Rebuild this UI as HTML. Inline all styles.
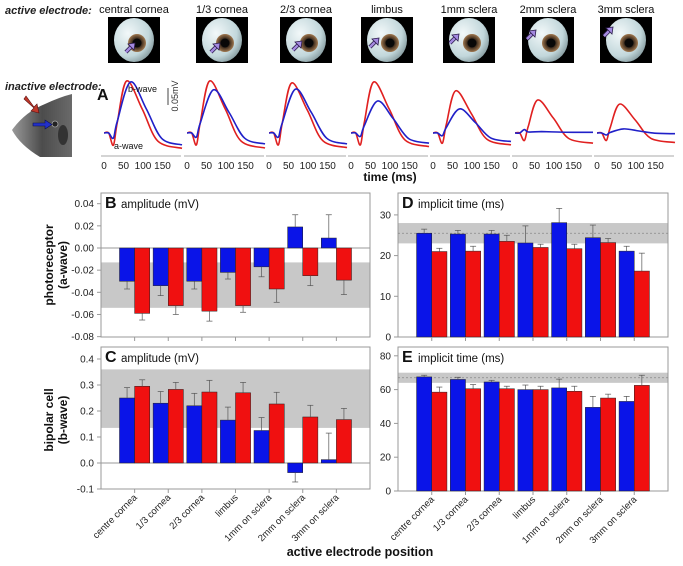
<!DOCTYPE html>
<html><head><meta charset="utf-8"><style>
html,body{margin:0;padding:0;background:#fff;}
svg{display:block;font-family:"Liberation Sans",Arial,sans-serif;}
</style></head><body>
<svg id="fig" width="683" height="566" viewBox="0 0 683 566" xmlns="http://www.w3.org/2000/svg">
<defs>
<radialGradient id="eyeG" cx="0.35" cy="0.35" r="0.8">
<stop offset="0" stop-color="#f2f8f9"/><stop offset="0.65" stop-color="#c2d7db"/><stop offset="1" stop-color="#6f8488"/></radialGradient>
<radialGradient id="irisG" cx="0.5" cy="0.5" r="0.5">
<stop offset="0.5" stop-color="#3a2a1c"/><stop offset="1" stop-color="#a07850"/></radialGradient>
<linearGradient id="mouseG" x1="0" y1="0" x2="1" y2="0">
<stop offset="0" stop-color="#9a9a9a"/><stop offset="0.5" stop-color="#4c4c4c"/><stop offset="1" stop-color="#6a6a6a"/></linearGradient>
</defs>
<g id="topGroup"></g>
<g id="bars"></g>
</svg>
<script>
// ---------------- data ----------------
const positions = ["central cornea","1/3 cornea","2/3 cornea","limbus","1mm sclera","2mm sclera","3mm sclera"];
const categories = ["centre cornea","1/3 cornea","2/3 cornea","limbus","1mm on sclera","2mm on sclera","3mm on sclera"];
// waveform parameters (mV)
const redB = [0.153,0.153,0.147,0.150,0.124,0.097,0.085];
const blueB = [0.150,0.127,0.129,0.094,0.071,0.004,0.012];
const redA = [-0.036,-0.035,-0.035,-0.035,-0.030,-0.022,-0.022];
const blueA = [-0.015,-0.012,-0.012,-0.010,-0.008,0.010,-0.006];
const redEnd = [-0.045,-0.044,-0.043,-0.040,-0.035,-0.030,-0.028];
const blueEnd = [-0.035,-0.032,-0.032,-0.030,-0.025,0.002,-0.002];
// B: a-wave amplitude
const bBlue = [-0.030,-0.034,-0.030,-0.022,-0.017,0.019,0.009];
const bBlueErr = [0.007,0.009,0.007,0.006,0.009,0.011,0.021];
const bRed = [-0.059,-0.052,-0.057,-0.052,-0.037,-0.025,-0.029];
const bRedErr = [0.006,0.008,0.009,0.006,0.012,0.009,0.013];
const bTicks = [0.04,0.02,0.00,-0.02,-0.04,-0.06,-0.08];
const bBand = [-0.054,-0.013];
// C: b-wave amplitude
const cBlue = [0.250,0.230,0.220,0.165,0.125,-0.037,0.013];
const cBlueErr = [0.040,0.045,0.048,0.050,0.050,0.036,0.102];
const cRed = [0.295,0.283,0.273,0.270,0.227,0.177,0.167];
const cRedErr = [0.025,0.027,0.045,0.040,0.045,0.045,0.043];
const cTicks = [0.4,0.3,0.2,0.1,0.0,-0.1];
const cBand = [0.135,0.36];
// D: a-wave implicit time
const dBlue = [25.5,25.3,25.3,23.1,28.1,24.4,21.1];
const dBlueErr = [1.0,0.9,0.9,4.2,3.5,3.1,1.2];
const dRed = [21.0,21.1,23.5,22.0,21.7,23.2,16.2];
const dRedErr = [0.8,1.2,1.5,0.8,1.1,1.0,4.4];
const dTicks = [0,10,20,30];
const dBand = [23,28], dMean = 25.5;
// E: b-wave implicit time
const eBlue = [67.5,66.0,64.5,60.0,61.0,49.5,53.0];
const eBlueErr = [1.0,1.3,1.0,2.7,5.2,6.5,3.0];
const eRed = [58.5,60.5,60.5,60.0,59.0,55.0,62.5];
const eRedErr = [3.0,2.5,1.5,2.0,3.0,2.3,6.0];
const eTicks = [0,20,40,60,80];
const eBand = [64,70], eMean = 67;

const NS="http://www.w3.org/2000/svg";
function mk(tag, attrs, parent){const e=document.createElementNS(NS,tag);for(const k in attrs)e.setAttribute(k,attrs[k]);parent.appendChild(e);return e;}
const topG=document.getElementById('topGroup');
const barsG=document.getElementById('bars');

// ---------------- top labels ----------------
let t=mk('text',{x:5,y:14,'font-size':11,'font-weight':'bold','font-style':'italic',fill:'#222'},topG);
t.textContent='active electrode:';


t=mk('text',{x:5,y:90,'font-size':11,'font-weight':'bold','font-style':'italic',fill:'#222'},topG);
t.textContent='inactive electrode:';



// mouse photo
const mouse=mk('g',{},topG);


mk('path',{d:'M12,130 Q25,112 45,104 Q60,97 72,94 L72,157 L40,157 Q20,145 12,130 Z',fill:'url(#mouseG)'},mouse);
mk('ellipse',{cx:63,cy:135,rx:5,ry:10,fill:'#333'},mouse);
mk('circle',{cx:55,cy:124,r:3,fill:'#222',stroke:'#aaa','stroke-width':0.8},mouse);
mk('path',{d:'M24,99 L34,108 L31,111 L39,113 L37,104 L34,107 L26,96 Z',fill:'#c0392b',stroke:'#5a0f0f','stroke-width':0.6},mouse);
mk('path',{d:'M33,123 L45,123 L45,120 L52,124.5 L45,129 L45,126 L33,126 Z',fill:'#2330c8',stroke:'#0a0f50','stroke-width':0.6},mouse);

// eyes
const eyeX=[108,196,280,361,443,522,600];
const arrowTip=[[27,26],[24,26],[22,24],[18,21],[16,17],[14,13],[13,10]];
positions.forEach((p,i)=>{
  const x=eyeX[i];
  const lab=mk('text',{x:x+26,y:13,'font-size':11,'text-anchor':'middle',fill:'#111'},topG);
  lab.textContent=p;
  
  
  const g=mk('g',{transform:`translate(${x},17)`},topG);
  
  
  mk('rect',{x:0,y:0,width:52,height:46,fill:'#000'},g);
  mk('ellipse',{cx:26,cy:23,rx:20,ry:22,fill:'url(#eyeG)'},g);
  mk('circle',{cx:29,cy:26,r:9,fill:'url(#irisG)'},g);
  mk('circle',{cx:29,cy:26,r:4.5,fill:'#080808'},g);
  const tx=arrowTip[i][0], ty=arrowTip[i][1];
  const L=13;
  const sx=tx-L*0.7, sy=ty+L*0.7;
  mk('line',{x1:sx,y1:sy,x2:tx-3,y2:ty+3,stroke:'#2a1a4a','stroke-width':4},g);
  mk('line',{x1:sx,y1:sy,x2:tx-3,y2:ty+3,stroke:'#a48ae0','stroke-width':2.4},g);
  mk('path',{d:`M${tx},${ty} L${tx-7},${ty+1} L${tx-1},${ty+7} Z`,fill:'#a48ae0',stroke:'#2a1a4a','stroke-width':0.8},g);
});

// ---------------- waveforms ----------------
const wStart=[104,187,269,351,433,515,597];
const base=133, pxPerMV=340, pxPerMs=0.39;
function catmull(pts){
  let d=`M${pts[0][0].toFixed(1)},${pts[0][1].toFixed(1)}`;
  for(let i=0;i<pts.length-1;i++){
    const p0=pts[Math.max(0,i-1)],p1=pts[i],p2=pts[i+1],p3=pts[Math.min(pts.length-1,i+2)];
    const c1=[p1[0]+(p2[0]-p0[0])/6,p1[1]+(p2[1]-p0[1])/6];
    const c2=[p2[0]-(p3[0]-p1[0])/6,p2[1]-(p3[1]-p1[1])/6];
    d+=` C${c1[0].toFixed(1)},${c1[1].toFixed(1)} ${c2[0].toFixed(1)},${c2[1].toFixed(1)} ${p2[0].toFixed(1)},${p2[1].toFixed(1)}`;
  }
  return d;
}
function trace(x0,a,b,end,peakT){
  const key=[[0,0],[12,0],[24,a],[34,a*0.2+b*0.25],[peakT,b],[peakT+40,b*0.55+end*0.3],[peakT+80,end*0.8+b*0.08],[200,end]];
  return catmull(key.map(([tm,v])=>[x0+tm*pxPerMs, base - v*pxPerMV]));
}
const A=mk('text',{x:97,y:100,'font-size':16,'font-weight':'bold',fill:'#111'},topG);
A.textContent='A';


positions.forEach((p,i)=>{
  const x0=wStart[i];
  const g=mk('g',{},topG);
  
  
  mk('line',{x1:x0-3,y1:156,x2:x0+77,y2:156,stroke:'#bbb','stroke-width':1.3},g);
  [0,50,100,150].forEach(v=>{
    const tl=mk('text',{x:x0+v*pxPerMs,y:169,'font-size':10,'text-anchor':'middle',fill:'#222'},g);
    tl.textContent=v;
    
    
  });
  const r=mk('path',{d:trace(x0,redA[i],redB[i],redEnd[i],58),fill:'none',stroke:'#e02020','stroke-width':1.6},g);
  
  
  const b=mk('path',{d:trace(x0,blueA[i],blueB[i],blueEnd[i],68),fill:'none',stroke:'#2020c8','stroke-width':1.6},g);
  
  
});
let s=mk('line',{x1:168,y1:88,x2:168,y2:105,stroke:'#444','stroke-width':1},topG);


s=mk('text',{x:0,y:0,'font-size':9,fill:'#333',transform:'translate(178,96) rotate(-90)','text-anchor':'middle'},topG);
s.textContent='0.05mV';


s=mk('text',{x:128,y:92,'font-size':9,fill:'#111'},topG);
s.textContent='b-wave';


s=mk('text',{x:114,y:149,'font-size':9,fill:'#111'},topG);
s.textContent='a-wave';


s=mk('text',{x:390,y:181,'font-size':12,'font-weight':'bold','text-anchor':'middle',fill:'#111'},topG);
s.textContent='time (ms)';



// ---------------- bar charts ----------------
function chart(cfg){
  const {x0,x1,yTop,yBot,vAt,pxPer,letter,title,blue,blueErr,red,redErr,ticks,band,mean,fmt,xlabels,name}=cfg;
  const g=mk('g',{},barsG);
  
  
  const Y=v=>vAt - v*pxPer;
  const step=(x1-x0)/8;
  const X=i=>x0+step*(i+1);
  const zero=Y(0);
  mk('rect',{x:x0,y:yTop,width:x1-x0,height:yBot-yTop,fill:'#fff',stroke:'#999','stroke-width':1},g);
  const bandEl=mk('rect',{x:x0+0.5,y:Y(band[1]),width:x1-x0-1,height:Y(band[0])-Y(band[1]),fill:'#c8c8c8'},g);
  
  
  if(mean!==undefined){
    const m=mk('line',{x1:x0,x2:x1,y1:Y(mean),y2:Y(mean),stroke:'#888','stroke-width':0.8,'stroke-dasharray':'2,2'},g);
    
    
  }
  if(zero>yTop && zero<yBot) mk('line',{x1:x0,x2:x1,y1:zero,y2:zero,stroke:'#999','stroke-width':1},g);
  ticks.forEach(v=>{
    mk('line',{x1:x0-4,x2:x0,y1:Y(v),y2:Y(v),stroke:'#999'},g);
    const tl=mk('text',{x:x0-7,y:Y(v)+3.5,'font-size':10,'text-anchor':'end',fill:'#222'},g);
    tl.textContent=fmt(v);
    
    
  });
  const bw=step*0.45;
  blue.forEach((v,i)=>{
    const cx=X(i);
    const drawBar=(val,err,xL,col,nm)=>{
      const y=Math.min(Y(val),zero), h=Math.abs(Y(val)-zero);
      const r=mk('rect',{x:xL,y:y,width:bw,height:h,fill:col,stroke:'#222','stroke-width':0.5},g);
      
      
      const sign=val>=0?1:-1;
      const ey=Y(val+sign*err), mx=xL+bw/2;
      mk('line',{x1:mx,x2:mx,y1:Y(val),y2:ey,stroke:'#555','stroke-width':0.7},g);
      mk('line',{x1:mx-3,x2:mx+3,y1:ey,y2:ey,stroke:'#555','stroke-width':0.7},g);
    };
    drawBar(v,blueErr[i],cx-bw,'#0a14e8','blue-bar');
    drawBar(red[i],redErr[i],cx,'#f01010','red-bar');
    mk('line',{x1:cx,x2:cx,y1:yBot,y2:yBot+4,stroke:'#999'},g);
    if(xlabels){
      const tl=mk('text',{x:0,y:0,'font-size':9.5,'text-anchor':'end',fill:'#222',transform:`translate(${cx+3},${yBot+9}) rotate(-45)`},g);
      tl.textContent=categories[i];
      
      
    }
  });
  const L=mk('text',{x:x0+4,y:yTop+15,'font-size':16,'font-weight':'bold',fill:'#111'},g);
  L.textContent=letter;
  
  
  const T=mk('text',{x:x0+20,y:yTop+15,'font-size':11.5,fill:'#111'},g);
  T.textContent=title;
  
  
}
chart({name:'panel-b-awave-amplitude',x0:101,x1:370,yTop:193,yBot:337,vAt:248,pxPer:1108,letter:'B',title:'amplitude (mV)',blue:bBlue,blueErr:bBlueErr,red:bRed,redErr:bRedErr,ticks:bTicks,band:bBand,fmt:v=>v.toFixed(2),xlabels:false});
chart({name:'panel-c-bwave-amplitude',x0:101,x1:370,yTop:347,yBot:489,vAt:463,pxPer:260,letter:'C',title:'amplitude (mV)',blue:cBlue,blueErr:cBlueErr,red:cRed,redErr:cRedErr,ticks:cTicks,band:cBand,fmt:v=>v.toFixed(1),xlabels:true});
chart({name:'panel-d-awave-implicit-time',x0:398,x1:668,yTop:193,yBot:337,vAt:337,pxPer:4.07,letter:'D',title:'implicit time (ms)',blue:dBlue,blueErr:dBlueErr,red:dRed,redErr:dRedErr,ticks:dTicks,band:dBand,mean:dMean,fmt:v=>String(v),xlabels:false});
chart({name:'panel-e-bwave-implicit-time',x0:398,x1:668,yTop:347,yBot:491,vAt:491,pxPer:1.69,letter:'E',title:'implicit time (ms)',blue:eBlue,blueErr:eBlueErr,red:eRed,redErr:eRedErr,ticks:eTicks,band:eBand,mean:eMean,fmt:v=>String(v),xlabels:true});

function ytitle(lines,cy,nm){
  const tx=mk('text',{x:0,y:0,'font-size':12,'font-weight':'bold','text-anchor':'middle',fill:'#111',transform:`translate(53,${cy}) rotate(-90)`},barsG);
  
  
  lines.forEach((l,k)=>{const ts=mk('tspan',{x:0,dy:k?14:0},tx);ts.textContent=l;});
}
ytitle(['photoreceptor','(a-wave)'],265,'y-axis-title-photoreceptor');
ytitle(['bipolar cell','(b-wave)'],420,'y-axis-title-bipolar');
s=mk('text',{x:360,y:556,'font-size':12.5,'font-weight':'bold','text-anchor':'middle',fill:'#111'},barsG);
s.textContent='active electrode position';


</script>
</body></html>
